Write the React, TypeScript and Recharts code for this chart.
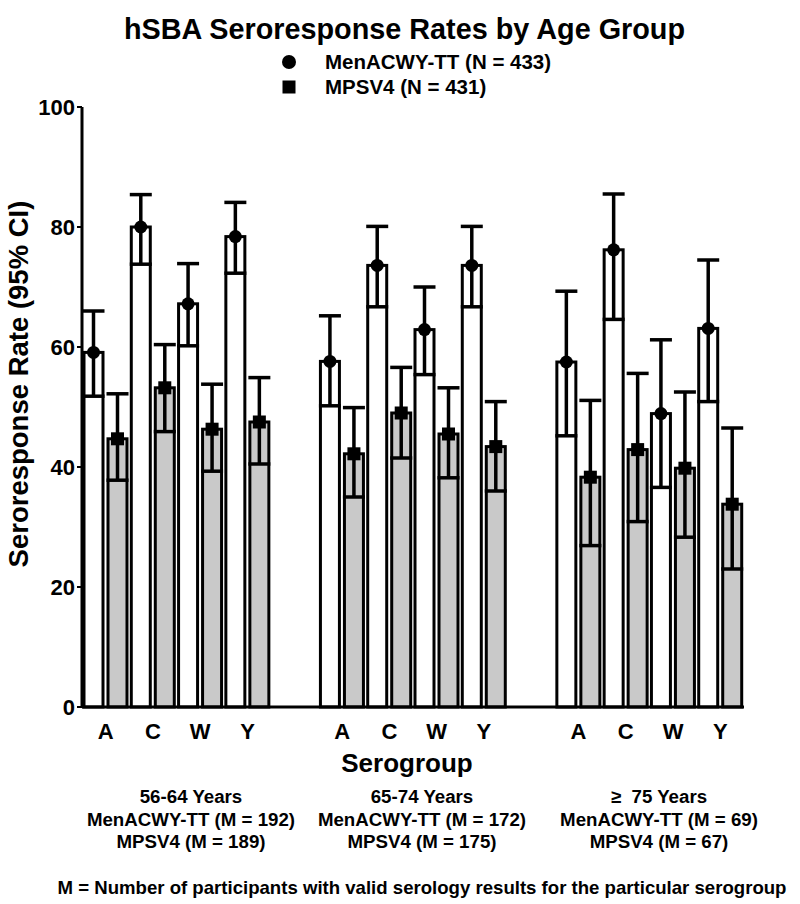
import React from 'react';
import { BarChart, Bar, XAxis, YAxis, ErrorBar, Legend } from 'recharts';

const serogroups = ['A', 'C', 'W', 'Y'];
const ageGroups = ['56-64 Years', '65-74 Years', '\u2265  75 Years'];
const menCounts = [192, 172, 69];
const mpsvCounts = [189, 175, 67];

// MenACWY-TT, per age group then serogroup (A, C, W, Y)
const menRate = [59.1, 80.0, 67.2, 78.4, 57.6, 73.6, 62.9, 73.6, 57.5, 76.2, 48.9, 63.1];
const menLow = [51.8, 73.8, 60.2, 72.3, 50.2, 66.7, 55.4, 66.7, 45.2, 64.6, 36.6, 50.9];
const menHigh = [66.0, 85.4, 73.9, 84.1, 65.2, 80.1, 70.0, 80.1, 69.3, 85.5, 61.2, 74.5];

// MPSV4
const mpsvRate = [44.7, 53.2, 46.3, 47.5, 42.2, 49.0, 45.5, 43.4, 38.3, 42.9, 39.8, 33.8];
const mpsvLow = [37.8, 45.9, 39.3, 40.5, 35.0, 41.5, 38.2, 36.0, 26.9, 30.9, 28.3, 23.0];
const mpsvHigh = [52.2, 60.4, 53.8, 54.9, 49.9, 56.6, 53.2, 50.9, 51.1, 55.6, 52.5, 46.5];

const yTicks = [0, 20, 40, 60, 80, 100];

const rows: any[] = [];
ageGroups.forEach((_, g) => {
  serogroups.forEach((sg, s) => {
    const i = g * 4 + s;
    rows.push({
      key: `${g}-${sg}`,
      label: sg,
      men: menRate[i],
      mpsv: mpsvRate[i],
      menErr: [menRate[i] - menLow[i], menHigh[i] - menRate[i]],
      mpsvErr: [mpsvRate[i] - mpsvLow[i], mpsvHigh[i] - mpsvRate[i]],
    });
  });
  if (g < ageGroups.length - 1) rows.push({ key: `gap${g}`, label: '' });
});

const font = "'Liberation Sans', Arial, sans-serif";
const labelByKey: Record<string, string> = {};
rows.forEach((r) => (labelByKey[r.key] = r.label));

const MenBar = (props: any) => {
  const { x, y, width, height, payload } = props;
  if (payload == null || payload.men == null) return null;
  return (
    <g>
      <rect x={x} y={y} width={width} height={height} fill="#ffffff" stroke="#000" strokeWidth={3} />
      <circle cx={x + width / 2} cy={y} r={6.5} fill="#000" />
    </g>
  );
};

const MpsvBar = (props: any) => {
  const { x, y, width, height, payload } = props;
  if (payload == null || payload.mpsv == null) return null;
  return (
    <g>
      <rect x={x} y={y} width={width} height={height} fill="#c9c9c9" stroke="#000" strokeWidth={3} />
      <rect x={x + width / 2 - 6.5} y={y - 6.5} width={13} height={13} fill="#000" />
    </g>
  );
};

const seriesOrder = ['men', 'mpsv'];

const LegendBox = (props: any) => {
  const items = [...(props.payload || [])].sort(
    (a: any, b: any) => seriesOrder.indexOf(a.dataKey) - seriesOrder.indexOf(b.dataKey)
  );
  return (
    <div style={{ fontFamily: font, fontWeight: 'bold', fontSize: 20.5, color: '#000' }}>
      {items.map((it: any) => (
        <div key={it.dataKey} style={{ display: 'flex', alignItems: 'center', height: 25 }}>
          <svg width={20} height={20} style={{ marginRight: 26 }}>
            {it.dataKey === 'men' ? (
              <circle cx={10} cy={10} r={7} fill="#000" />
            ) : (
              <rect x={3.5} y={3.5} width={13} height={13} fill="#000" />
            )}
          </svg>
          <span>{it.value}</span>
        </div>
      ))}
    </div>
  );
};

const abs = (s: React.CSSProperties): React.CSSProperties => ({
  position: 'absolute',
  fontFamily: font,
  fontWeight: 'bold',
  color: '#000',
  whiteSpace: 'pre',
  ...s,
});

const groupCenters = [191, 422, 659];

export default function App() {
  return (
    <div style={{ position: 'absolute', left: 0, top: 0, width: 800, height: 904, background: '#fff' }}>
      <div style={abs({ left: 0, width: 809, top: 11, fontSize: 28.8, textAlign: 'center', lineHeight: '36px' })}>
        hSBA Seroresponse Rates by Age Group
      </div>
      <BarChart
        width={800}
        height={904}
        data={rows}
        margin={{ top: 107, right: 56, bottom: 167, left: 22 }}
        barGap={5}
        barSize={19}
      >
        <XAxis
          dataKey="key"
          tickFormatter={(k: string) => labelByKey[k]}
          interval={0}
          tickLine={false}
          tickSize={8}
          tickMargin={8}
          axisLine={{ stroke: '#000', strokeWidth: 3 }}
          tick={{ fill: '#000', fontSize: 22, fontWeight: 'bold', fontFamily: font }}
          height={30}
        />
        <YAxis
          domain={[0, 100]}
          ticks={yTicks}
          width={60}
          tickSize={5}
          tickMargin={2}
          tickLine={{ stroke: '#000', strokeWidth: 2 }}
          axisLine={{ stroke: '#000', strokeWidth: 3 }}
          tick={{ fill: '#000', fontSize: 22, fontWeight: 'bold', fontFamily: font }}
        />
        <Legend
          layout="vertical"
          align="center"
          verticalAlign="middle"
          content={<LegendBox />}
          wrapperStyle={{ top: 49, left: 279, width: 340 }}
        />
        <Bar dataKey="men" name="MenACWY-TT (N = 433)" fill="#ffffff" stroke="#000" shape={<MenBar />} isAnimationActive={false}>
          <ErrorBar dataKey="menErr" width={11} stroke="#000" strokeWidth={3.5} direction="y" />
        </Bar>
        <Bar dataKey="mpsv" name="MPSV4 (N = 431)" fill="#c9c9c9" stroke="#000" shape={<MpsvBar />} isAnimationActive={false}>
          <ErrorBar dataKey="mpsvErr" width={11} stroke="#000" strokeWidth={3.5} direction="y" />
        </Bar>
      </BarChart>
      <div
        style={abs({
          left: 19,
          top: 384,
          fontSize: 27.5,
          transform: 'translate(-50%, -50%) rotate(-90deg)',
          lineHeight: '30px',
        })}
      >
        Seroresponse Rate (95% CI)
      </div>
      <div style={abs({ left: 407, top: 763, fontSize: 26, transform: 'translate(-50%, -50%)' })}>Serogroup</div>
      {ageGroups.map((ag, g) => (
        <div
          key={ag}
          style={abs({
            left: groupCenters[g],
            top: 786,
            fontSize: 18.7,
            lineHeight: '22.5px',
            textAlign: 'center',
            transform: 'translateX(-50%)',
          })}
        >
          <div>{ag}</div>
          <div>MenACWY-TT (M = {menCounts[g]})</div>
          <div>MPSV4 (M = {mpsvCounts[g]})</div>
        </div>
      ))}
      <div style={abs({ left: 422, top: 888, fontSize: 18.6, transform: 'translate(-50%, -50%)' })}>
        M = Number of participants with valid serology results for the particular serogroup
      </div>
    </div>
  );
}
